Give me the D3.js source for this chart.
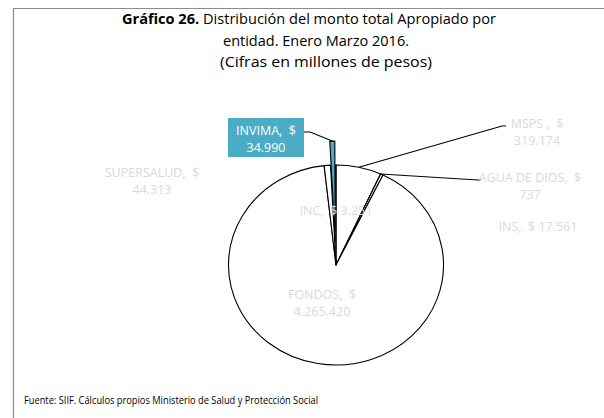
<!DOCTYPE html>
<html>
<head>
<meta charset="utf-8">
<script src="https://cdn.jsdelivr.net/npm/d3@7"></script>
<style>
  body { margin: 0; background: #fff; }
  svg { display: block; font-family: "Open Sans", Lato, sans-serif; }
</style>
</head>
<body>
<div id="chart"></div>
<script>
// Datos (millones de pesos), orden de las porciones desde las 12 en punto
var entidades = ["MSPS ", "AGUA DE DIOS", "INS", "FONDOS", "SUPERSALUD", "INVIMA", "INC"];
var montos = [319174, 737, 17561, 4265420, 44313, 34990, 3251];
var destacada = "INVIMA";

var width = 604, height = 418;
var cx = 336, cy = 265, r = 100, sx = 1.075;

var locale = d3.formatLocale({ decimal: ",", thousands: ".", grouping: [3], currency: ["$", ""] });
var fmt = locale.format(",");

var svg = d3.select("#chart").append("svg")
    .attr("width", width)
    .attr("height", height);

// marco
svg.append("path")
    .attr("d", "M13.5," + height + "V8.5H" + width)
    .attr("fill", "none")
    .attr("stroke", "#8c8c8c")
    .attr("stroke-width", 1.2);

// titulo
var title = svg.append("g").attr("text-anchor", "middle").attr("fill", "#000").style("font-size", "14.5px");
var t1 = title.append("text").attr("x", 309).attr("y", 24).attr("textLength", 374).attr("lengthAdjust", "spacingAndGlyphs");
t1.append("tspan").attr("font-weight", "bold").text("Gráfico 26.");
t1.append("tspan").text(" Distribución del monto total Apropiado por");
title.append("text").attr("x", 316).attr("y", 46).attr("textLength", 186).attr("lengthAdjust", "spacingAndGlyphs")
    .text("entidad. Enero Marzo 2016.");
title.append("text").attr("x", 326).attr("y", 67).attr("textLength", 212).attr("lengthAdjust", "spacingAndGlyphs")
    .text("(Cifras en millones de pesos)");

var data = entidades.map(function(d, i) { return { name: d, value: montos[i] }; });

var pie = d3.pie().sort(null).value(function(d) { return d.value; });
var arc = d3.arc().innerRadius(0).outerRadius(r);
var arcs = pie(data);

var g = svg.append("g")
    .attr("transform", "translate(" + cx + "," + cy + ") scale(" + sx + ",1)");

g.selectAll("path")
    .data(arcs)
    .enter()
    .append("path")
    .attr("d", arc)
    .attr("transform", function(d) {
        if (d.data.name !== destacada) return null;
        var a = (d.startAngle + d.endAngle) / 2, off = 24;
        return "translate(" + (Math.sin(a) * off) + "," + (-Math.cos(a) * off) + ")";
    })
    .attr("fill", function(d) { return d.data.name === destacada ? "#4bacc6" : "#fff"; })
    .attr("stroke", "#000")
    .attr("stroke-width", 1.1)
    .attr("vector-effect", "non-scaling-stroke")
    .attr("stroke-linejoin", "round");

// lineas guia
function edge(name, frac, extra) {
    var d = arcs.find(function(a) { return a.data.name === name; });
    var a = d.startAngle + (d.endAngle - d.startAngle) * frac;
    var rr = r + (extra || 0);
    return [cx + Math.sin(a) * rr * sx, cy - Math.cos(a) * rr];
}
var leaders = [
    [edge("MSPS ", 0.5), [502, 126], [506, 126]],
    [edge("AGUA DE DIOS", 0.5), [478, 180], [481, 180]],
    [edge("INVIMA", 0.5, 24), [310, 132], [304, 132]]
];
svg.selectAll(".leader")
    .data(leaders)
    .enter()
    .append("polyline")
    .attr("class", "leader")
    .attr("points", function(d) { return d.join(" "); })
    .attr("fill", "none")
    .attr("stroke", "#000")
    .attr("stroke-width", 1.1);

// caja INVIMA
svg.append("rect")
    .attr("x", 228).attr("y", 118)
    .attr("width", 76).attr("height", 39)
    .attr("fill", "#4bacc6");

// etiquetas
var pos = {
    "MSPS ": [537, 128, 1],
    "AGUA DE DIOS": [530, 182, 1],
    "INS": [538, 231, 0],
    "FONDOS": [322, 299, 1],
    "SUPERSALUD": [152, 177, 1],
    "INVIMA": [266, 135, 1],
    "INC": [336, 215, 0]
};
var labels = svg.append("g")
    .attr("text-anchor", "middle")
    .style("font-size", "12.5px");

data.forEach(function(d) {
    var p = pos[d.name];
    var name = d.name.replace(/ $/, "\u00a0");
    var txt = labels.append("text")
        .attr("x", p[0]).attr("y", p[1])
        .attr("fill", d.name === destacada ? "#fff" : "#d9d9d9");
    if (p[2]) {
        txt.append("tspan").attr("x", p[0]).text(name + ",\u00a0 $");
        txt.append("tspan").attr("x", p[0]).attr("dy", 17).text(fmt(d.value));
    } else {
        txt.text(name + ",\u00a0 $ " + fmt(d.value));
    }
});

// fuente
svg.append("text")
    .attr("x", 24).attr("y", 404)
    .attr("textLength", 294).attr("lengthAdjust", "spacingAndGlyphs")
    .style("font-size", "10.5px")
    .attr("fill", "#000")
    .text("Fuente: SIIF. Cálculos propios Ministerio de Salud y Protección Social");
</script>
</body>
</html>
